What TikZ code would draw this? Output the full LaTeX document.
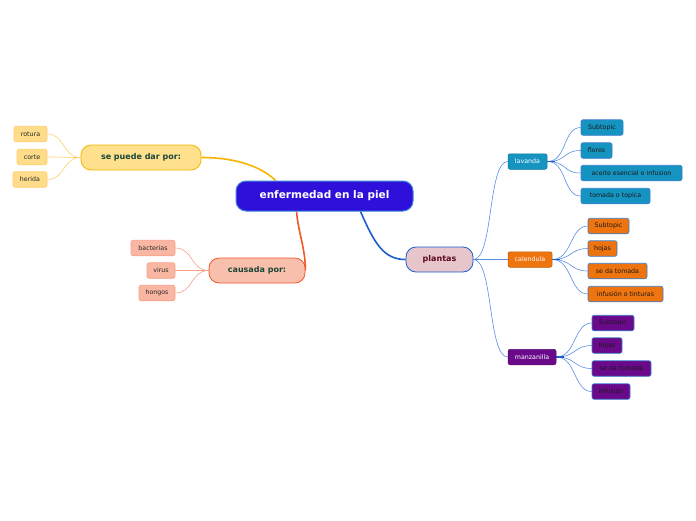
\documentclass[tikz,border=0pt]{standalone}
\usepackage{fontspec}
\setmainfont{DejaVu Sans}
\usetikzlibrary{calc}
\pgfdeclarelayer{bg}
\pgfsetlayers{bg,main}
\definecolor{cenfill}{HTML}{2F10DB}
\definecolor{cenline}{HTML}{3A86D8}
\definecolor{yfill}{HTML}{FFE08C}
\definecolor{yline}{HTML}{F7B500}
\definecolor{ysub}{HTML}{FFDC8A}
\definecolor{ysubline}{HTML}{FFD070}
\definecolor{rfill}{HTML}{F9BFAD}
\definecolor{rline}{HTML}{F05828}
\definecolor{rsub}{HTML}{F9B7A3}
\definecolor{rsubline}{HTML}{F8A088}
\definecolor{pfill}{HTML}{E6C5CB}
\definecolor{pline}{HTML}{1E5CD2}
\definecolor{thinb}{HTML}{5A8EE6}
\definecolor{lav}{HTML}{1594C2}
\definecolor{cal}{HTML}{EE7410}
\definecolor{man}{HTML}{6A0A8A}
\definecolor{dgreen}{HTML}{1A4538}
\definecolor{maroon}{HTML}{5A0A1E}
\definecolor{subb}{HTML}{3A7FD0}
\tikzset{
  x=1pt,y=-1pt,
  central/.style={draw=cenline,line width=1pt,fill=cenfill,rounded corners=10pt,text=white,font=\bfseries\fontsize{10.5}{12}\selectfont,minimum width=177pt,minimum height=30pt,inner sep=0pt},
  midnode/.style={draw=#1line,line width=0.8pt,fill=#1fill,rounded corners=10pt,font=\bfseries\fontsize{8}{10}\selectfont,minimum height=25pt,inner sep=0pt},
  ysmall/.style={draw=ysubline,line width=0.6pt,fill=ysub,rounded corners=2pt,font=\fontsize{6.3}{8}\selectfont,minimum height=15.5pt,inner sep=0pt,text=black!85},
  rsmall/.style={draw=rsubline,line width=0.6pt,fill=rsub,rounded corners=2pt,font=\fontsize{6.3}{8}\selectfont,minimum height=15.5pt,inner sep=0pt,text=black!85},
  plantnode/.style={draw=#1!80!black,line width=0.5pt,fill=#1,rounded corners=2pt,font=\fontsize{6.3}{8}\selectfont,minimum height=15.5pt,inner sep=0pt,text=white},
  leaf/.style={draw=subb,line width=0.6pt,fill=#1,rounded corners=2pt,font=\fontsize{6.3}{8}\selectfont,minimum height=15.5pt,inner sep=0pt,text=black!90},
  yconn/.style={draw=ysubline,line width=0.6pt},
  rconn/.style={draw=rsubline,line width=0.6pt},
  bconn/.style={draw=thinb,line width=0.6pt},
}
\begin{document}
\begin{tikzpicture}
\useasboundingbox (0,0) rectangle (696,520);
% central
\node[central] (c) at (324.5,196) {enfermedad en la piel};
% yellow branch
\node[midnode=y,text=dgreen,minimum width=120pt] (y) at (141,157.5) {se puede dar por:};
\node[ysmall,minimum width=33pt] (y1) at (30.5,134) {rotura};
\node[ysmall,minimum width=30pt] (y2) at (32,157) {corte};
\node[ysmall,minimum width=34pt] (y3) at (30,179.5) {herida};
% red branch
\node[midnode=r,text=dgreen,minimum width=96pt] (r) at (257,270.5) {causada por:};
\node[rsmall,minimum width=44pt] (r1) at (153,248) {bacterias};
\node[rsmall,minimum width=28pt] (r2) at (161,270.5) {virus};
\node[rsmall,minimum width=36pt] (r3) at (157,293) {hongos};
% plantas
\node[midnode=p,text=maroon,minimum width=67pt] (p) at (439.5,259.5) {plantas};
\node[plantnode=lav,minimum width=39pt] (l) at (527.5,161.5) {lavanda};
\node[leaf=lav,minimum width=42pt] (l1) at (602,127.5) {Subtopic};
\node[leaf=lav,minimum width=31pt] (l2) at (596.5,150.5) {flores};
\node[leaf=lav,minimum width=101pt] (l3) at (631.5,173) {aceite esencial o infusion};
\node[leaf=lav,minimum width=69pt] (l4) at (615.5,196) {tomada o topica};
\node[plantnode=cal,minimum width=44pt] (k) at (530,259.5) {calendula};
\node[leaf=cal,minimum width=41pt] (k1) at (608.5,226) {Subtopic};
\node[leaf=cal,minimum width=29pt] (k2) at (602.5,248.5) {hojas};
\node[leaf=cal,minimum width=59pt] (k3) at (617.5,271) {se da tomada};
\node[leaf=cal,minimum width=75pt] (k4) at (625.5,294) {infusión o tinturas};
\node[plantnode=man,minimum width=48pt] (m) at (532,357) {manzanilla};
\node[leaf=man,minimum width=42pt] (m1) at (613,323) {Subtopic};
\node[leaf=man,minimum width=30pt] (m2) at (607,345.5) {hojas};
\node[leaf=man,minimum width=59pt] (m3) at (621.5,368.5) {se da tomada};
\node[leaf=man,minimum width=38pt] (m4) at (611,391.5) {infusión};
\begin{pgfonlayer}{bg}
\fill[white] (0,0) rectangle (696,520);
% main branches
\draw[yline,line width=1.6pt] (y.east) .. controls +(38,0) and +(-12,-12) .. ($(c.north)+(-49,0)$);
\draw[rline,line width=1.6pt] ($(c.south)+(-28,0)$) .. controls +(2,22) and +(0,-22) .. (r.east);
\draw[pline,line width=1.6pt] ($(c.south)+(36,0)$) .. controls +(14,32) and +(-22,0) .. (p.west);
% sub branches
\foreach \t in {y1,y2,y3} \draw[yconn] (y.west) .. controls +(-18,0) and +(18,0) .. (\t.east);
\foreach \t in {r1,r2,r3} \draw[rconn] (r.west) .. controls +(-18,0) and +(18,0) .. (\t.east);
\foreach \t in {l,k,m} \draw[bconn] (p.east) .. controls +(20,0) and +(-20,0) .. (\t.west);
\foreach \t in {l1,l2,l3,l4} \draw[bconn] (l.east) .. controls +(20,0) and +(-18,0) .. (\t.west);
\foreach \t in {k1,k2,k3,k4} \draw[bconn] (k.east) .. controls +(20,0) and +(-18,0) .. (\t.west);
\foreach \t in {m1,m2,m3,m4} \draw[bconn] (m.east) .. controls +(20,0) and +(-18,0) .. (\t.west);
\draw[pline,line width=1.4pt] (l.east) -- +(8,0);
\draw[pline,line width=1.4pt] (k.east) -- +(8,0);
\draw[pline,line width=1.4pt] (m.east) -- +(8,0);
\end{pgfonlayer}
\end{tikzpicture}
\end{document}
